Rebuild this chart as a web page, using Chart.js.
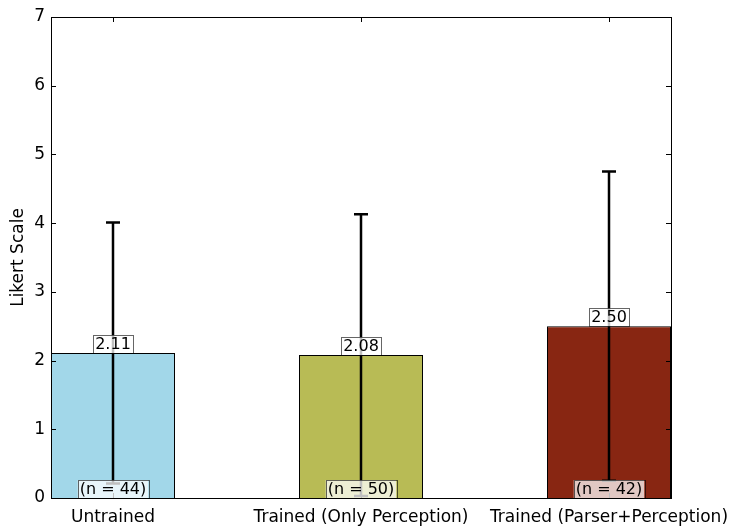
<!DOCTYPE html>
<html>
<head>
<meta charset="utf-8">
<script src="https://cdn.jsdelivr.net/npm/chart.js@4.4.1/dist/chart.umd.min.js"></script>
<style>
  html, body { margin: 0; padding: 0; background: #fff; }
  #wrap { width: 737px; height: 532px; }
</style>
</head>
<body>
<div id="wrap"><canvas id="likertChart" width="737" height="532"></canvas></div>
<script>
// Data
const categories = ['Untrained', 'Trained (Only Perception)', 'Trained (Parser+Perception)'];
const means = [2.11, 2.08, 2.50];
const stdErrs = [1.90, 2.05, 2.25];
const counts = [44, 50, 42];
const yTicks = [0, 1, 2, 3, 4, 5, 6, 7];
const barColors = ['#a2d7e9', '#b8bb55', '#882612'];

const FONT = "'DejaVu Sans', sans-serif";

// error bars, inner ticks, frame and boxed labels
const extrasPlugin = {
    id: 'extras',
    afterDatasetsDraw(chart) {
        const ctx = chart.ctx;
        const xs = chart.scales.x;
        const ys = chart.scales.y;
        const area = chart.chartArea;

        ctx.save();
        // error bars
        ctx.strokeStyle = '#000';
        ctx.lineWidth = 2.5;
        means.forEach((m, i) => {
            const x = xs.getPixelForValue(i);
            const top = ys.getPixelForValue(m + stdErrs[i]);
            const bot = ys.getPixelForValue(Math.max(0, m - stdErrs[i]));
            ctx.beginPath();
            ctx.moveTo(x, top);
            ctx.lineTo(x, bot);
            ctx.moveTo(x - 7, top);
            ctx.lineTo(x + 7, top);
            ctx.moveTo(x - 7, bot);
            ctx.lineTo(x + 7, bot);
            ctx.stroke();
        });

        // frame
        ctx.lineWidth = 1;
        ctx.strokeStyle = '#000';
        ctx.strokeRect(Math.round(area.left) + 0.5, Math.round(area.top) + 0.5,
            Math.round(area.right - area.left), Math.round(area.bottom - area.top));

        // inward ticks on all four sides
        ctx.beginPath();
        yTicks.forEach(v => {
            const y = Math.round(ys.getPixelForValue(v)) + 0.5;
            ctx.moveTo(area.left, y); ctx.lineTo(area.left + 5, y);
            ctx.moveTo(area.right, y); ctx.lineTo(area.right - 5, y);
        });
        categories.forEach((c, i) => {
            const x = Math.round(xs.getPixelForValue(i)) + 0.5;
            ctx.moveTo(x, area.bottom); ctx.lineTo(x, area.bottom - 5);
            ctx.moveTo(x, area.top); ctx.lineTo(x, area.top + 5);
        });
        ctx.stroke();

        // boxed text labels
        ctx.font = '16px ' + FONT;
        ctx.textAlign = 'center';
        ctx.textBaseline = 'middle';
        const boxed = (text, cx, bottom) => {
            const w = ctx.measureText(text).width + 4;
            const h = 18;
            const l = cx - w / 2;
            const t = bottom - h;
            ctx.fillStyle = 'rgba(255,255,255,0.75)';
            ctx.fillRect(l, t, w, h);
            ctx.strokeStyle = 'rgba(0,0,0,0.6)';
            ctx.lineWidth = 1;
            ctx.strokeRect(Math.round(l) + 0.5, Math.round(t) + 0.5, Math.round(w), h);
            ctx.fillStyle = '#000';
            ctx.fillText(text, cx, t + h / 2 + 1);
        };
        means.forEach((m, i) => {
            const x = xs.getPixelForValue(i);
            boxed(m.toFixed(2), x, ys.getPixelForValue(m));
            boxed('(n = ' + counts[i] + ')', x, ys.getPixelForValue(0));
        });
        ctx.restore();
    }
};

const renderChart = () => {
    const ctx = document.getElementById('likertChart').getContext('2d');
    new Chart(ctx, {
        type: 'bar',
        data: {
            datasets: [{
                data: means.map((m, i) => ({ x: i, y: m })),
                backgroundColor: barColors,
                borderColor: '#000',
                borderWidth: 1,
                barPercentage: 0.5,
                categoryPercentage: 1.0,
            }],
        },
        options: {
            responsive: false,
            animation: false,
            layout: { padding: { top: 17, right: 66, left: 0, bottom: 0 } },
            plugins: { legend: { display: false }, tooltip: { enabled: false } },
            scales: {
                x: {
                    type: 'linear',
                    min: -0.25,
                    max: 2.25,
                    offset: false,
                    afterBuildTicks: s => { s.ticks = categories.map((c, i) => ({ value: i })); },
                    afterFit: s => { s.height = 34; },
                    grid: { display: false },
                    border: { display: true, color: '#000' },
                    ticks: {
                        color: '#000',
                        font: { family: FONT, size: 17 },
                        padding: 1,
                        maxRotation: 0,
                        autoSkip: false,
                        callback: v => categories[v],
                    },
                },
                y: {
                    min: 0,
                    max: 7,
                    afterBuildTicks: s => { s.ticks = yTicks.map(v => ({ value: v })); },
                    afterFit: s => { s.width = 51; },
                    grid: { display: false },
                    border: { display: true, color: '#000' },
                    ticks: {
                        color: '#000',
                        font: { family: FONT, size: 17 },
                        padding: -2,
                    },
                    title: {
                        display: true,
                        text: 'Likert Scale',
                        color: '#000',
                        font: { family: FONT, size: 17 },
                        padding: { top: 8, bottom: 0 },
                    },
                },
            },
        },
        plugins: [extrasPlugin],
    });
};

renderChart();
</script>
</body>
</html>
